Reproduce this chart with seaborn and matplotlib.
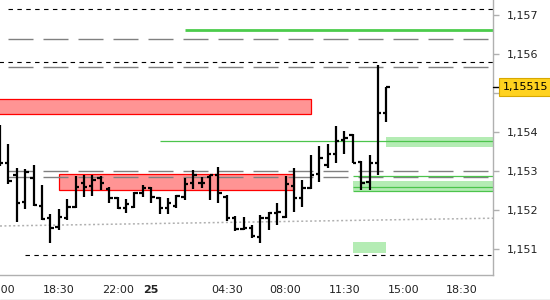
import numpy as np
import pandas as pd
import matplotlib
matplotlib.use("Agg")
import matplotlib.pyplot as plt
import seaborn as sns
from matplotlib.transforms import blended_transform_factory
from matplotlib.lines import Line2D
from matplotlib.patches import Rectangle

# ---------------- data ----------------
# 30-minute OHLC bars, hours counted from 15:00 on day 24
bar_hours = [i * 0.5 for i in range(47)]
opens = [1.15379, 1.15321, 1.15290, 1.15221, 1.15282, 1.15210, 1.15180, 1.15156, 1.15180, 1.15208,
         1.15269, 1.15262, 1.15282, 1.15254, 1.15231, 1.15205, 1.15208, 1.15244, 1.15256, 1.15231,
         1.15205, 1.15210, 1.15233, 1.15269, 1.15269, 1.15285, 1.15290, 1.15233, 1.15180, 1.15151,
         1.15154, 1.15131, 1.15180, 1.15192, 1.15182, 1.15262, 1.15231, 1.15256, 1.15292, 1.15315,
         1.15344, 1.15379, 1.15392, 1.15323, 1.15272, 1.15321, 1.15449]
highs = [1.15418, 1.15369, 1.15308, 1.15305, 1.15315, 1.15264, 1.15190, 1.15203, 1.15228, 1.15287,
         1.15290, 1.15290, 1.15287, 1.15259, 1.15233, 1.15228, 1.15246, 1.15264, 1.15259, 1.15233,
         1.15231, 1.15238, 1.15282, 1.15303, 1.15285, 1.15290, 1.15310, 1.15238, 1.15185, 1.15182,
         1.15162, 1.15187, 1.15195, 1.15218, 1.15287, 1.15308, 1.15277, 1.15341, 1.15364, 1.15369,
         1.15415, 1.15403, 1.15395, 1.15326, 1.15341, 1.15572, 1.15515]
lows = [1.15313, 1.15267, 1.15169, 1.15203, 1.15210, 1.15174, 1.15115, 1.15149, 1.15174, 1.15205,
        1.15233, 1.15236, 1.15251, 1.15218, 1.15203, 1.15192, 1.15205, 1.15233, 1.15218, 1.15190,
        1.15190, 1.15205, 1.15226, 1.15254, 1.15256, 1.15226, 1.15218, 1.15172, 1.15146, 1.15149,
        1.15128, 1.15115, 1.15149, 1.15162, 1.15180, 1.15195, 1.15208, 1.15254, 1.15272, 1.15308,
        1.15321, 1.15344, 1.15321, 1.15251, 1.15251, 1.15290, 1.15426]
closes = [1.15321, 1.15274, 1.15218, 1.15297, 1.15213, 1.15177, 1.15154, 1.15182, 1.15208, 1.15259,
          1.15259, 1.15277, 1.15269, 1.15231, 1.15205, 1.15215, 1.15244, 1.15256, 1.15233, 1.15205,
          1.15218, 1.15236, 1.15267, 1.15290, 1.15269, 1.15290, 1.15244, 1.15180, 1.15151, 1.15154,
          1.15133, 1.15180, 1.15192, 1.15195, 1.15267, 1.15231, 1.15256, 1.15290, 1.15333, 1.15344,
          1.15377, 1.15385, 1.15321, 1.15269, 1.15321, 1.15449, 1.15515]

current_price = 1.15515
current_label = "1,15515"

# horizontal levels
black_levels = [1.15715, 1.15579, 1.15085]
black_starts = [0.5, -1.0, 1.5]
black_ends = [29.4, 29.4, 29.2]
gray_levels = [1.15638, 1.15566, 1.15300, 1.15285]
green_thick_level, green_thick_start = 1.15662, 11.0
green_thin_levels = [1.15376, 1.15287, 1.15259, 1.15249]
green_thin_starts = [9.5, 21.0, 21.0, 21.0]

# zones: (start hour, end hour, low, high)
red_zones = [(-1.0, 18.5, 1.15446, 1.15485), (3.5, 17.5, 1.15251, 1.15292)]
green_zones = [(23.0, 29.4, 1.15362, 1.15387), (21.0, 29.4, 1.15249, 1.15274),
               (21.0, 23.0, 1.15091, 1.15119)]

trend_hours = [0.0, 29.4]
trend_prices = [1.15159, 1.15179]

xtick_hours = [0, 3.5, 7, 9, 13.5, 17, 20.5, 24, 27.5]
xtick_labels = ["15:00", "18:30", "22:00", "25", "04:30", "08:00", "11:30", "15:00", "18:30"]
ytick_values = [1.151, 1.152, 1.153, 1.154, 1.155, 1.156, 1.157]
ytick_labels = ["1,151", "1,152", "1,153", "1,154", "", "1,156", "1,157"]

# ---------------- plot ----------------
sns.set_style("white")
plt.rcParams["font.family"] = ["DejaVu Sans"]

fig = plt.figure(figsize=(5.5, 3.0), dpi=100)
ax = fig.add_axes([0.0, 25 / 300, 493 / 550, 275 / 300])

x_lo, x_hi = 0.6 / 16.82, 493.6 / 16.82
ax.set_xlim(x_lo, x_hi)
ax.set_ylim(1.157 - 260 / 39000, 1.157 + 15 / 39000)

# zones
for (s, e, lo, hi) in red_zones:
    ax.add_patch(Rectangle((s, lo), e - s, hi - lo, facecolor="#ff9494",
                           edgecolor="#ff0000", lw=0.9, zorder=1))
for (s, e, lo, hi) in green_zones:
    ax.add_patch(Rectangle((s, lo), e - s, hi - lo, facecolor="#b4ecb4",
                           edgecolor="none", lw=0, zorder=1))

# trend line (seaborn)
trend_df = pd.DataFrame({"hour": trend_hours, "price": trend_prices})
sns.lineplot(data=trend_df, x="hour", y="price", ax=ax, color="#b0b0b0",
             lw=1.1, linestyle=(0, (1.3, 1.6)), zorder=2)

# levels
for lvl, s, e in zip(black_levels, black_starts, black_ends):
    ax.hlines(lvl, s, e, colors="black", lw=0.8, linestyles=(0, (4.0, 4.0)), zorder=2)
for lvl in gray_levels:
    ax.hlines(lvl, 0.5, 29.05, colors="#808080", lw=1.0, linestyles=(0, (18, 7.2)), zorder=2)
ax.hlines(green_thick_level, green_thick_start, 30, colors="#4ccc4c", lw=2.0, zorder=2)
for lvl, s in zip(green_thin_levels, green_thin_starts):
    ax.hlines(lvl, s, 30, colors="#4cc44c", lw=0.9, zorder=2)

# OHLC bars
bh = np.array(bar_hours)
ax.vlines(bh, lows, highs, colors="black", lw=1.6, zorder=4, capstyle="butt")
ax.hlines(opens, bh - 0.2, bh, colors="black", lw=1.6, zorder=4)
ax.hlines(closes, bh, bh + 0.2, colors="black", lw=1.6, zorder=4)

# axes styling
for side in ["top", "left"]:
    ax.spines[side].set_visible(False)
for side in ["right", "bottom"]:
    ax.spines[side].set_color("#b0b0b0")
    ax.spines[side].set_linewidth(1.0)

ax.yaxis.tick_right()
ax.set_yticks(ytick_values)
ax.set_yticklabels(ytick_labels)
ax.set_xticks(xtick_hours)
ax.set_xticklabels(xtick_labels)
ax.set_xticks([10], minor=True)
ax.tick_params(axis="both", which="both", direction="out", length=4, width=1,
               color="#b0b0b0", labelsize=8, labelcolor="#222222", pad=3)
ax.tick_params(axis="y", pad=6)
for lab in ax.get_xticklabels():
    if lab.get_text() == "25":
        lab.set_fontweight("bold")
ax.set_xlabel("")
ax.set_ylabel("")

# current price marker
tr = blended_transform_factory(ax.transAxes, ax.transData)
ax.plot([1.0, 1.016], [current_price, current_price], color="black", lw=1.0,
        transform=tr, clip_on=False, zorder=5)
ax.text(1.0205, current_price, current_label, transform=tr, ha="left", va="center",
        fontsize=8, color="black", zorder=6, clip_on=False,
        bbox=dict(boxstyle="square,pad=0.35", fc="#ffd21f", ec="#d8a800", lw=0.8))

fig.add_artist(Line2D([0, 1], [0.5 / 300, 0.5 / 300], color="#b0b0b0", lw=1.0,
                      transform=fig.transFigure))

fig.savefig("out.png", dpi=100)
